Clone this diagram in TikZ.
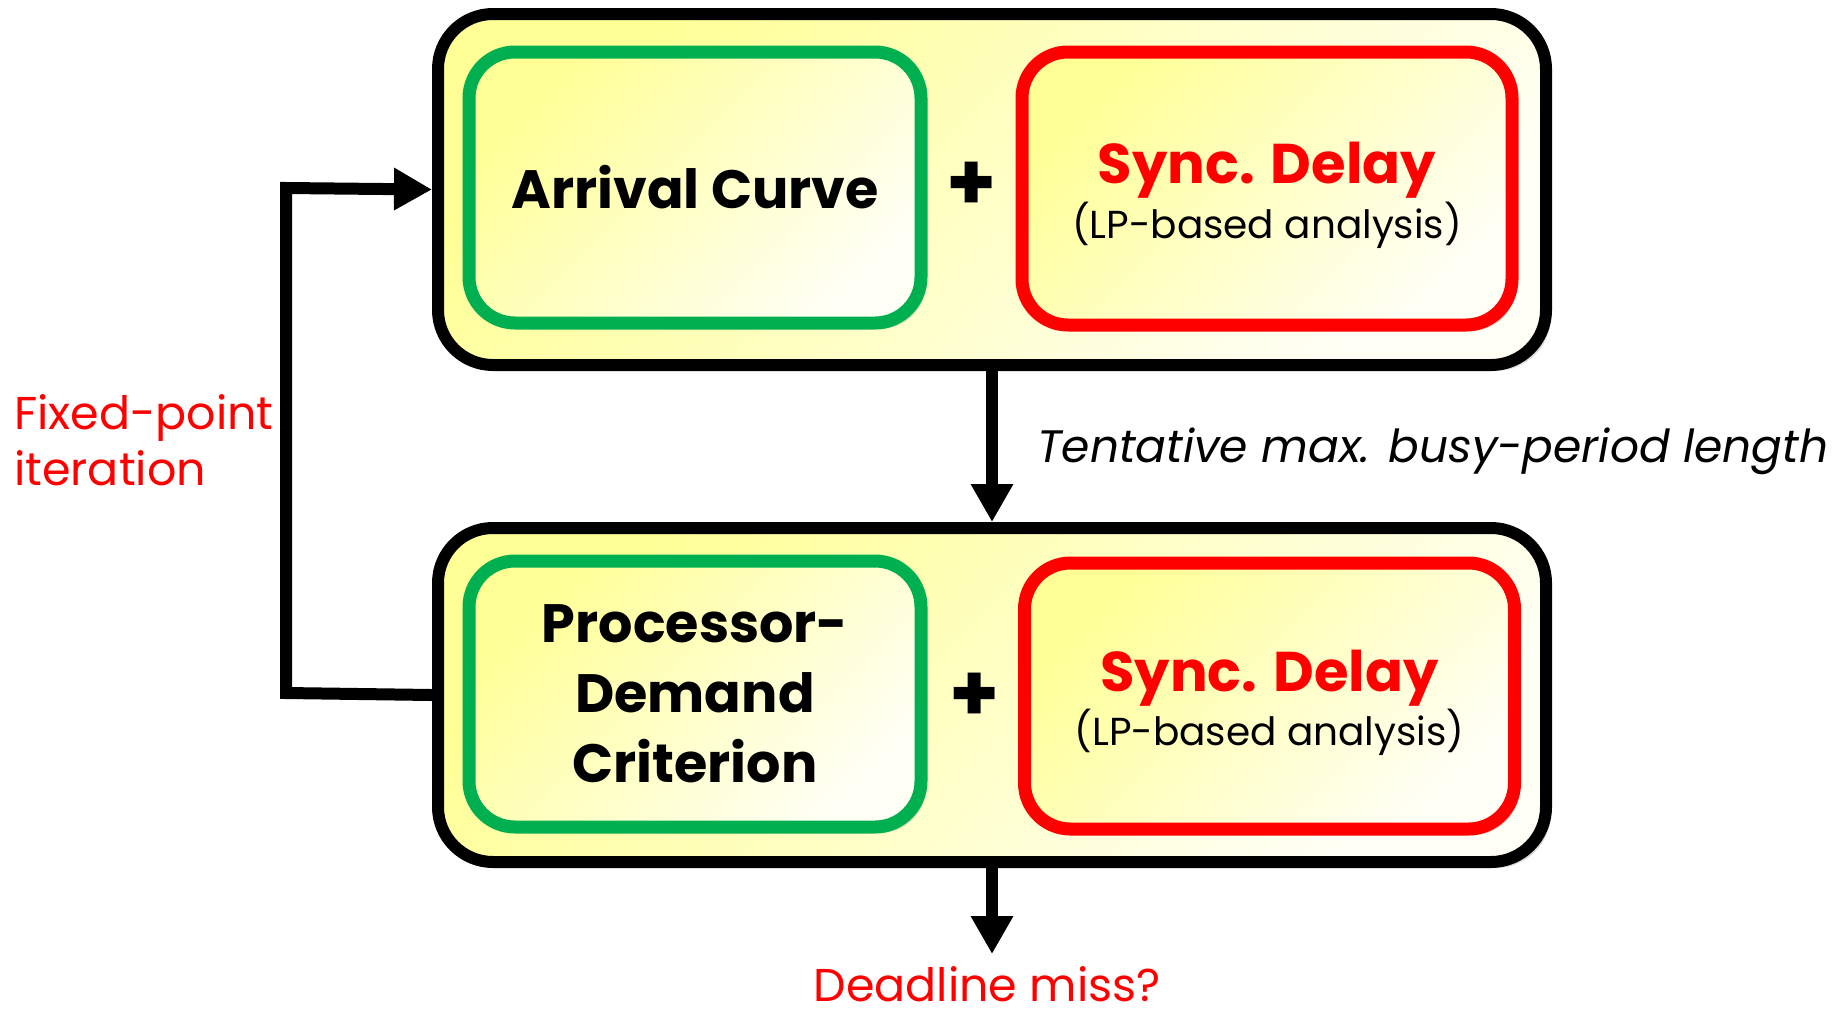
\documentclass[tikz,border=0pt]{standalone}
\usepackage{fontspec}
\setmainfont{Poppins}
\usetikzlibrary{arrows.meta,shadows}
\definecolor{boxgreen}{RGB}{0,176,80}
\definecolor{boxred}{RGB}{255,0,0}
\definecolor{paleyellow}{RGB}{255,255,150}
\definecolor{creamwhite}{RGB}{255,255,246}
% two-line label of a synchronisation-delay box; the strut lowers the block a little
\newcommand\syncdelaytext{%
  {\rule{0pt}{55pt}\fontsize{56}{56}\selectfont\bfseries\color{boxred}Sync. Delay}\\[2pt]
  {\fontsize{39}{46}\selectfont (LP-based analysis)}}
\begin{document}
\begin{tikzpicture}[x=1pt,y=-1pt,
  softshadow/.style={drop shadow={shadow xshift=5pt,shadow yshift=-6pt,opacity=0.28}},
  stage/.style={draw=black,line width=12pt,rounded corners=55pt,
    top color=paleyellow,bottom color=creamwhite,shading angle=45,
    softshadow,inner sep=0pt,minimum width=1108pt,minimum height=#1},
  part/.style={line width=13pt,rounded corners=46pt,
    top color=paleyellow,bottom color=creamwhite,shading angle=45,
    softshadow,inner sep=0pt,align=center,minimum height=#1},
  greenpart/.style={part=#1,draw=boxgreen,minimum width=452pt},
  redpart/.style={part=#1,draw=boxred,minimum width=490pt},
  titlefont/.style={font=\fontsize{54}{70}\selectfont\bfseries},
  plusfont/.style={font=\fontsize{80}{80}\selectfont\bfseries},
  flow/.style={line width=12pt,line join=miter,
    -{Triangle[length=38pt,width=40pt]}},
  note/.style={font=\fontsize{46}{56}\selectfont,text=boxred,inner sep=0pt},
]
\useasboundingbox (0,0) rectangle (1847,1018);

% upper stage: arrival curve + synchronisation delay
\node[stage=351pt] (upper) at (992,189.5) {};
\node[greenpart=271pt,titlefont] (arrival) at (695,187.5) {Arrival Curve};
\node[plusfont] (plusA) at (972,186) {+};
\node[redpart=273pt] (syncA) at (1267,188.5) {\syncdelaytext};

% lower stage: processor-demand criterion + synchronisation delay
\node[stage=334pt] (lower) at (992,695) {};
\node[greenpart=266pt,titlefont] (pdc) at (695,694)
  {Processor-\\Demand\\Criterion};
\node[plusfont] (plusB) at (975,697) {+};
\node[redpart=266pt] (syncB) at (1269.5,696) {\syncdelaytext};

% flow between the stages
\draw[flow] (upper.south) -- (lower.north);
\node[font=\fontsize{45.5}{52}\selectfont\itshape,anchor=west,inner sep=0pt]
  (busy) at (1037,451) {Tentative max. busy-period length};

% fixed-point feedback loop
\draw[flow] (lower.west) -- (286,693) -- (286,188) -- (upper.west);
\node[note,align=left,anchor=west] (fixed) at (14,440)
  {Fixed-point\\iteration};

% final outcome
\coordinate (outcome) at (992,954);
\draw[flow] (lower.south) -- (outcome);
\node[note,anchor=base] (miss) at (987,1001) {Deadline miss?};
\end{tikzpicture}
\end{document}
